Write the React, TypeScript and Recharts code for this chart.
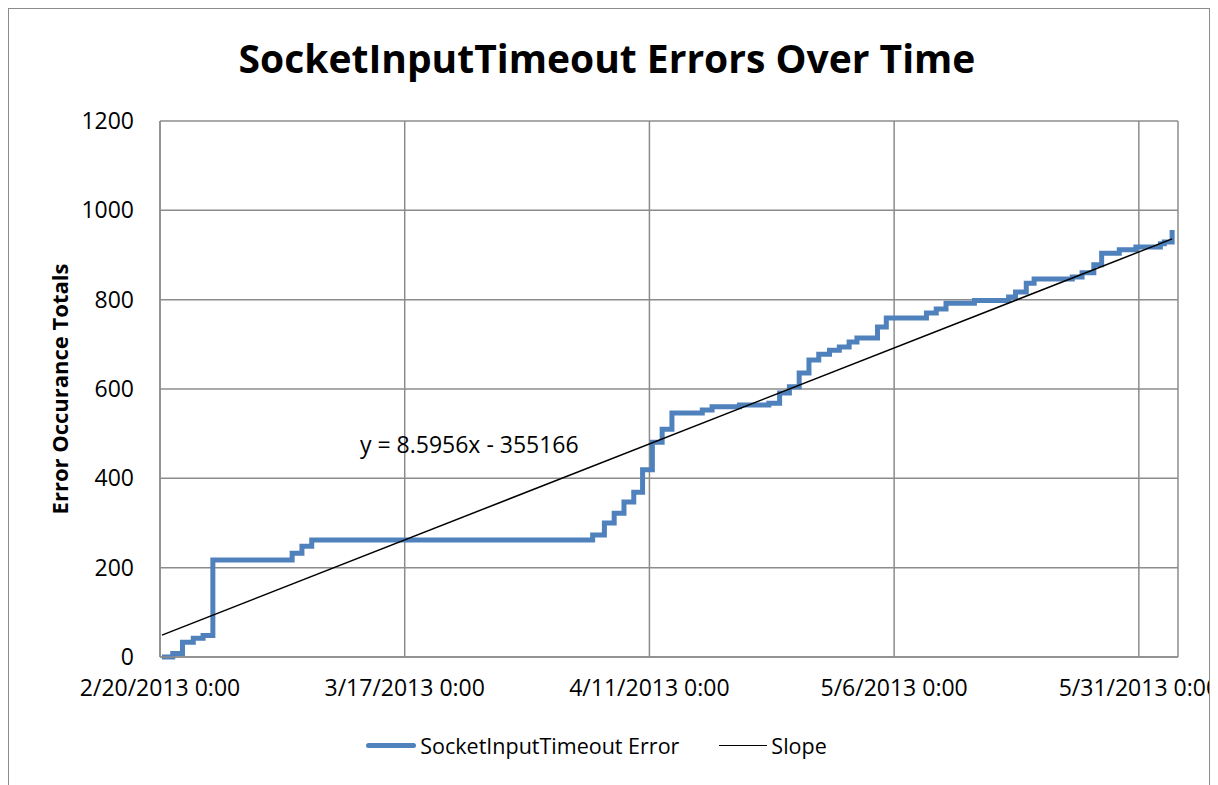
import { LineChart, Line, XAxis, YAxis, CartesianGrid, ReferenceDot } from "recharts";

// days since 2/20/2013 0:00 and running error totals
const stepDays = [
    0.2, 1.3, 2.3, 3.4, 4.4, 5.4, 13.5, 14.5, 15.5, 44.2, 45.4, 46.4, 47.4, 48.4, 49.3,
    50.3, 51.3, 52.3, 55.4, 56.4, 59.2, 62.2, 63.3, 64.3, 65.3, 66.3, 67.3, 68.4, 69.4,
    70.4, 71.2, 73.3, 74.2, 78.3, 79.3, 80.3, 83.2, 86.7, 87.4, 88.5, 89.3, 93.2, 94.2,
    95.4, 96.2, 98.0, 99.7, 102.2, 102.6, 103.4,
];
const stepCounts = [
    0, 8, 33, 42, 48, 217, 232, 248, 262, 273, 300, 322, 347, 369, 419,
    481, 510, 546, 553, 560, 564, 568, 591, 605, 636, 665, 678, 687, 694,
    705, 714, 739, 759, 770, 779, 792, 798, 806, 817, 837, 846, 851, 860,
    878, 904, 912, 918, 925, 929, 956,
];

// trendline end points
const slopeDays = [0.2, 103.4];
const slopeValues = [49, 936];

const xTicks = [0, 25, 50, 75, 100];
const xTickLabels = ["2/20/2013 0:00", "3/17/2013 0:00", "4/11/2013 0:00", "5/6/2013 0:00", "5/31/2013 0:00"];
const yTicks = [0, 200, 400, 600, 800, 1000, 1200];

const equationText = "y = 8.5956x - 355166";

const errorData = stepDays.map((day, i) => ({ day, value: stepCounts[i] }));
const slopeData = slopeDays.map((day, i) => ({ day, value: slopeValues[i] }));

const FONT = "'Open Sans', 'Noto Sans', sans-serif";
const GRID = "#8c8c8c";
const BLUE = "#4f81bd";

export default function App() {
    return (
        <div style={{
            position: 'relative',
            width: 1200,
            height: 790,
            border: `1px solid ${GRID}`,
            overflow: 'hidden',
            background: '#fff',
            fontFamily: FONT,
        }}>
            <div style={{
                position: 'absolute',
                top: 22,
                left: 0,
                width: 1196,
                textAlign: 'center',
                fontSize: 39,
                fontWeight: 700,
                color: '#000',
            }}>
                SocketInputTimeout Errors Over Time
            </div>

            <LineChart
                width={1200}
                height={776}
                margin={{ top: 112, right: 31, left: 0, bottom: 88 }}
            >
                <CartesianGrid stroke={GRID} strokeWidth={1.5} />
                <XAxis
                    type="number"
                    dataKey="day"
                    domain={[0, 104]}
                    ticks={xTicks}
                    tickFormatter={(v) => xTickLabels[xTicks.indexOf(v)] ?? ''}
                    tick={{ fill: '#000', fontSize: 23, fontFamily: FONT }}
                    tickSize={0}
                    tickMargin={23}
                    height={40}
                    axisLine={{ stroke: GRID, strokeWidth: 1.5 }}
                    allowDataOverflow
                />
                <YAxis
                    type="number"
                    domain={[0, 1200]}
                    ticks={yTicks}
                    tick={{ fill: '#000', fontSize: 23, fontFamily: FONT }}
                    tickSize={0}
                    tickMargin={26}
                    width={151}
                    axisLine={{ stroke: GRID, strokeWidth: 1.5 }}
                    label={{
                        value: 'Error Occurance Totals',
                        angle: -90,
                        position: 'insideLeft',
                        offset: 51,
                        style: { textAnchor: 'middle', fill: '#000', fontSize: 22, fontWeight: 700, fontFamily: FONT },
                    }}
                />
                <Line
                    data={errorData}
                    dataKey="value"
                    type="stepAfter"
                    stroke={BLUE}
                    strokeWidth={5}
                    dot={false}
                    isAnimationActive={false}
                />
                <Line
                    data={slopeData}
                    dataKey="value"
                    type="linear"
                    stroke="#000"
                    strokeWidth={1.5}
                    dot={false}
                    isAnimationActive={false}
                />
                <ReferenceDot
                    x={31.6}
                    y={476}
                    r={0}
                    label={{ value: equationText, position: 'center', fill: '#000', fontSize: 23, fontFamily: FONT }}
                />
            </LineChart>

            <div style={{
                position: 'absolute',
                top: 722,
                left: 0,
                width: 1200,
                display: 'flex',
                justifyContent: 'center',
                alignItems: 'center',
                fontSize: 21.5,
                color: '#000',
                paddingRight: 25,
                boxSizing: 'border-box',
            }}>
                <span style={{ display: 'inline-block', width: 50, height: 5, background: BLUE, borderRadius: 3, marginRight: 4 }} />
                <span>SocketInputTimeout Error</span>
                <span style={{ display: 'inline-block', width: 48, height: 1.5, background: '#000', marginLeft: 40, marginRight: 4 }} />
                <span>Slope</span>
            </div>
        </div>
    );
}
